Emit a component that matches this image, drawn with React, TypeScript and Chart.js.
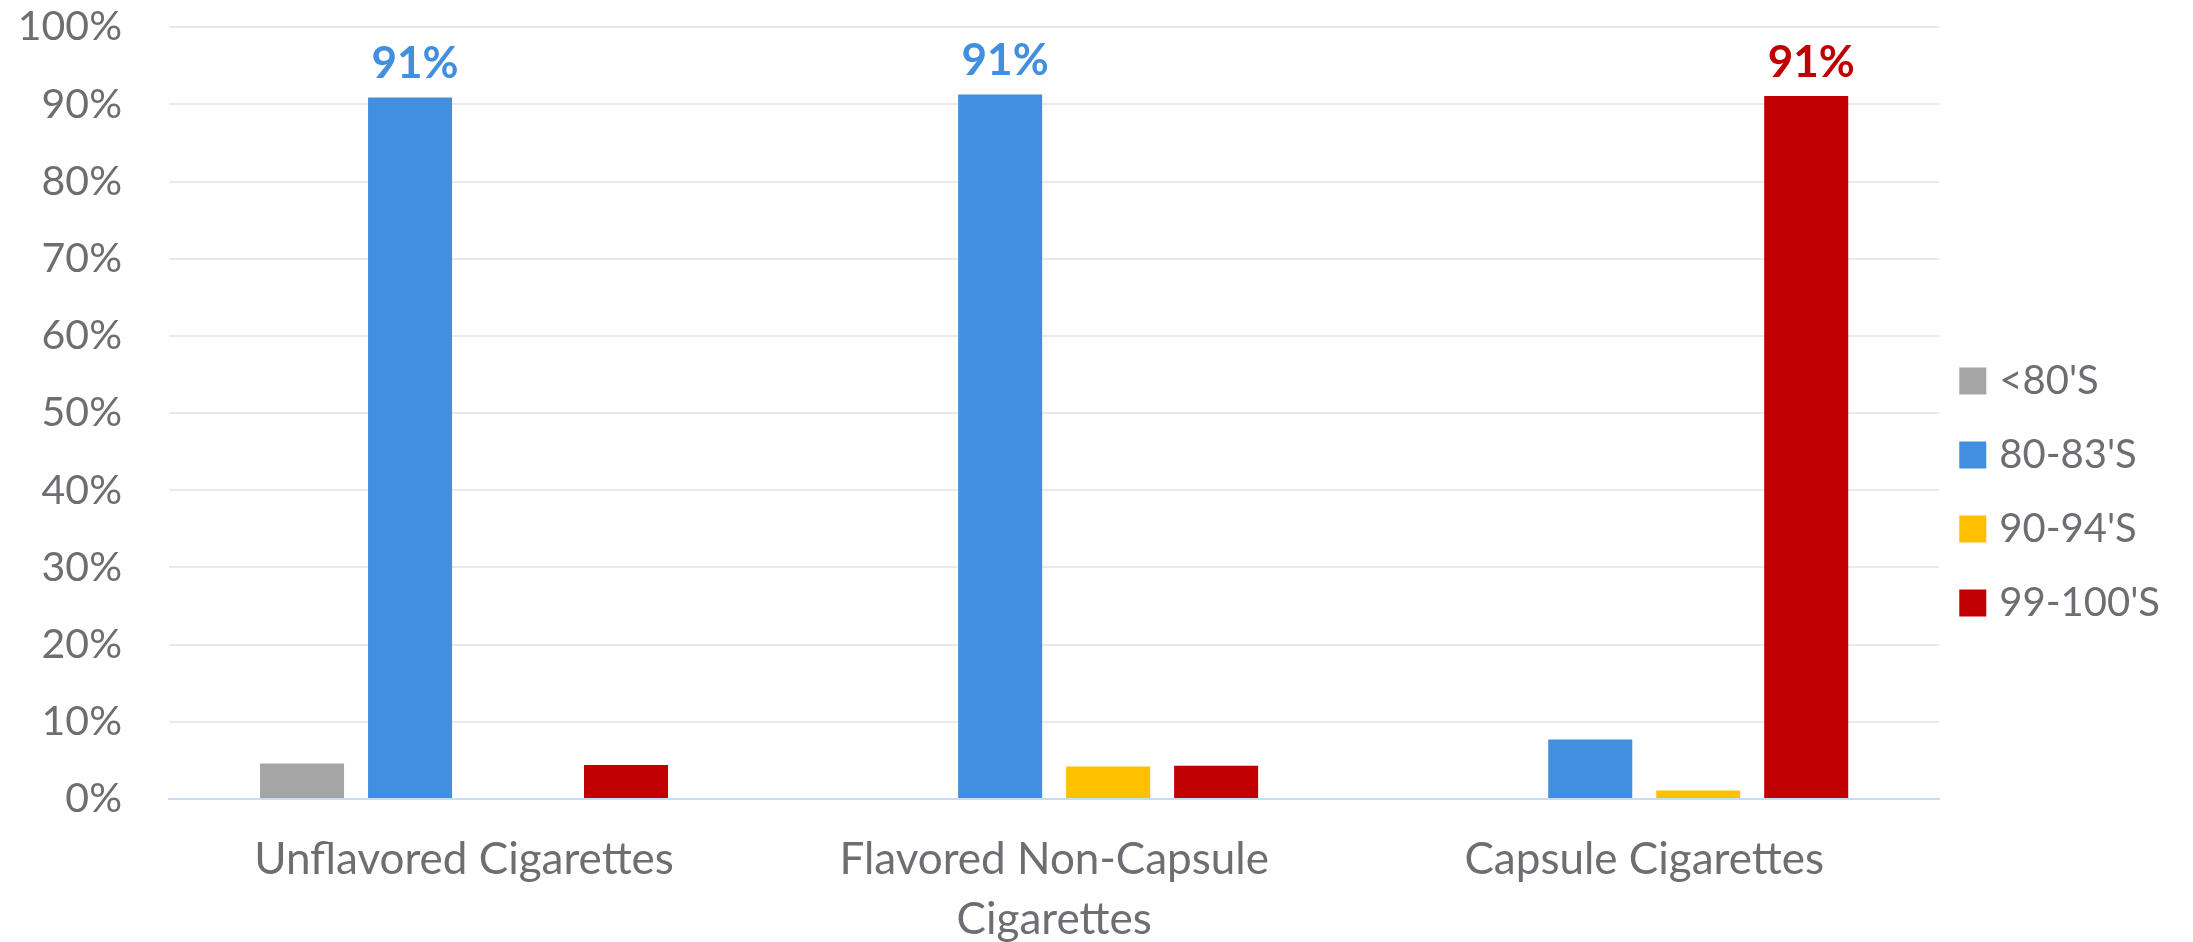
import React, { useEffect, useRef } from 'react';
import { Chart, registerables } from 'chart.js';

Chart.register(...registerables);

// ---- data ----
const categories: (string | string[])[] = [
  'Unflavored Cigarettes',
  ['Flavored Non-Capsule', 'Cigarettes'],
  'Capsule Cigarettes',
];
const seriesNames = ["<80'S", "80-83'S", "90-94'S", "99-100'S"];
const seriesUnder80 = [4.6, 0, 0];
const series80to83 = [90.9, 91.3, 7.7];
const series90to94 = [0, 4.2, 1.1];
const series99to100 = [4.4, 4.3, 91.1];
const seriesColors = ['#A5A5A5', '#418FDE', '#FFC000', '#C00000'];
const yMin = 0;
const yMax = 100;
const yStep = 10;

const FONT = 'Lato, "Open Sans", sans-serif';
const TEXT_COLOR = '#6E6E72';

const topLabelPlugin = {
  id: 'topLabels',
  afterDatasetsDraw(chart: any) {
    const ctx = chart.ctx;
    const n = chart.data.labels.length;
    for (let i = 0; i < n; i++) {
      let best = -1;
      let bestVal = -Infinity;
      chart.data.datasets.forEach((ds: any, di: number) => {
        const v = ds.data[i];
        if (v != null && v > bestVal) {
          bestVal = v;
          best = di;
        }
      });
      if (best < 0) continue;
      const el = chart.getDatasetMeta(best).data[i];
      ctx.save();
      ctx.font = `bold 44px ${FONT}`;
      ctx.fillStyle = chart.data.datasets[best].backgroundColor;
      ctx.textAlign = 'center';
      ctx.textBaseline = 'alphabetic';
      ctx.fillText(Math.round(bestVal) + '%', el.x + 5, el.y - 19);
      ctx.restore();
    }
  },
};

const legendShiftPlugin = {
  id: 'legendShift',
  afterLayout(chart: any) {
    const lg = chart.legend;
    if (lg) {
      lg.left -= 7;
      lg.right -= 7;
    }
  },
};

export default function App() {
  const ref = useRef<HTMLCanvasElement>(null);

  useEffect(() => {
    if (!ref.current) return;
    const values = [seriesUnder80, series80to83, series90to94, series99to100];
    const chart = new Chart(ref.current, {
      type: 'bar',
      data: {
        labels: categories as any,
        datasets: seriesNames.map((name, i) => ({
          label: name,
          data: values[i],
          backgroundColor: seriesColors[i],
          borderWidth: 0,
          categoryPercentage: 0.732,
          barPercentage: 0.778,
        })),
      },
      options: {
        responsive: false,
        animation: false,
        devicePixelRatio: 1,
        layout: { padding: { left: 0, top: 0, bottom: 0, right: 16 } },
        plugins: {
          tooltip: { enabled: false },
          legend: {
            position: 'right',
            align: 'center',
            title: { display: true, text: ' ', font: { size: 24, lineHeight: 1 }, padding: 9 },
            labels: {
              usePointStyle: true,
              pointStyle: 'rect',
              boxWidth: 13,
              boxHeight: 27,
              padding: 34,
              color: TEXT_COLOR,
              font: { family: FONT, size: 40 },
            },
          },
        },
        scales: {
          x: {
            grid: { display: false, drawTicks: false },
            border: { display: true, color: '#C9DCF5', width: 2 },
            ticks: {
              color: TEXT_COLOR,
              font: { family: FONT, size: 44, lineHeight: 60 / 44 },
              padding: 31,
              maxRotation: 0,
              autoSkip: false,
            },
            afterFit(scale: any) {
              scale.height = 143;
            },
          },
          y: {
            min: yMin,
            max: yMax,
            grid: {
              color: '#EAEAEA',
              lineWidth: 2,
              drawTicks: true,
              tickLength: 47,
              tickColor: 'rgba(0,0,0,0)',
            },
            border: { display: false },
            ticks: {
              stepSize: yStep,
              color: TEXT_COLOR,
              font: { family: FONT, size: 41, lineHeight: 1.33 },
              padding: 0,
              callback: (v: any) => v + '%',
            },
            afterFit(scale: any) {
              scale.width = 169;
            },
          },
        },
      },
      plugins: [topLabelPlugin, legendShiftPlugin],
    });
    return () => chart.destroy();
  }, []);

  return (
    <div style={{ position: 'fixed', left: 0, top: 0, width: 2193, height: 942, overflow: 'hidden', background: '#fff' }}>
      <canvas ref={ref} width={2193} height={942} style={{ display: 'block', width: 2193, height: 942 }} />
    </div>
  );
}
